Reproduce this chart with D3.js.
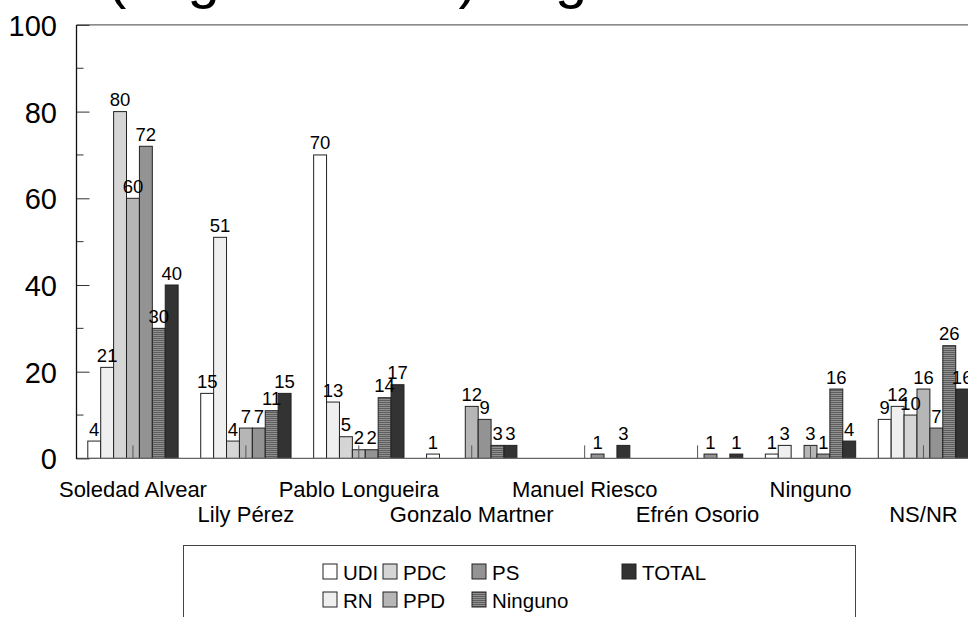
<!DOCTYPE html>
<html>
<head>
<meta charset="utf-8">
<script src="https://cdn.jsdelivr.net/npm/d3@7"></script>
<style>
  html, body { margin: 0; padding: 0; background: #fff; }
  svg { display: block; font-family: "Liberation Sans", Arial, sans-serif; }
</style>
</head>
<body>
<svg id="chart" width="968" height="617"></svg>
<script>
// ---- data ----
const categories = ["Soledad Alvear", "Lily Pérez", "Pablo Longueira", "Gonzalo Martner",
                    "Manuel Riesco", "Efrén Osorio", "Ninguno", "NS/NR"];
const seriesNames = ["UDI", "RN", "PDC", "PPD", "PS", "Ninguno", "TOTAL"];
const UDI     = [4, 15, 70, 1, 0, 0, 1, 9];
const RN      = [21, 51, 13, 0, 0, 0, 3, 12];
const PDC     = [80, 4, 5, 0, 0, 0, 0, 10];
const PPD     = [60, 7, 2, 12, 0, 0, 3, 16];
const PS      = [72, 7, 2, 9, 1, 1, 1, 7];
const Ninguno = [30, 11, 14, 3, 0, 0, 16, 26];
const TOTAL   = [40, 15, 17, 3, 3, 1, 4, 16];
const yTicks = [0, 20, 40, 60, 80, 100];
const titleText = "Preferencia (según sector) según";

const seriesValues = [UDI, RN, PDC, PPD, PS, Ninguno, TOTAL];
const fills = ["#ffffff", "#efefef", "#d5d5d5", "#b6b6b6", "#939393", "url(#hatch)", "#333333"];

const svg = d3.select("#chart");

// hatch pattern for "Ninguno"
const defs = svg.append("defs");
const pat = defs.append("pattern").attr("id", "hatch").attr("patternUnits", "userSpaceOnUse")
  .attr("width", 4).attr("height", 2);
pat.append("rect").attr("width", 4).attr("height", 2).attr("fill", "#5e5e5e");
pat.append("rect").attr("y", 1).attr("width", 4).attr("height", 1).attr("fill", "#909090");

// scales
const x0 = d3.scaleBand().domain(categories).range([76.5, 979.9]).paddingInner(0.2).paddingOuter(0.1);
const x1 = d3.scaleBand().domain(seriesNames).range([0, x0.bandwidth()]).padding(0);
const y = d3.scaleLinear().domain([0, 100]).range([458.4, 24.9]);

// title (mostly off the top of the picture)
const title = svg.append("text").attr("x", 0).attr("y", -3)
  .attr("font-size", 58).attr("fill", "#000").text(titleText);
const pIdx = titleText.indexOf("(");
const pPos = title.node().getStartPositionOfChar(pIdx).x;
title.attr("x", 107 - pPos);

// top frame line
svg.append("line").attr("x1", 76.5).attr("x2", 968).attr("y1", y(100)).attr("y2", y(100))
  .attr("stroke", "#666").attr("stroke-width", 1.2);

// bars
const data = [];
categories.forEach((c, i) => {
  seriesNames.forEach((s, j) => {
    data.push({ cat: c, ser: s, v: seriesValues[j][i], fill: fills[j] });
  });
});
const shown = data.filter(d => d.v > 0);

svg.append("g").selectAll("rect").data(shown).join("rect")
  .attr("x", d => x0(d.cat) + x1(d.ser))
  .attr("y", d => y(d.v))
  .attr("width", x1.bandwidth())
  .attr("height", d => y(0) - y(d.v))
  .attr("fill", d => d.fill)
  .attr("stroke", "#222")
  .attr("stroke-width", 1);

// value labels
svg.append("g").selectAll("text").data(shown).join("text")
  .attr("x", d => x0(d.cat) + x1(d.ser) + x1.bandwidth() / 2)
  .attr("y", d => y(d.v) - 5.5)
  .attr("text-anchor", "middle")
  .attr("font-size", 18.5)
  .attr("fill", "#000")
  .text(d => d.v);

// baseline
svg.append("line").attr("x1", 76.5).attr("x2", 968).attr("y1", y(0)).attr("y2", y(0))
  .attr("stroke", "#666").attr("stroke-width", 1.4);

// category ticks (pointing up, inside)
svg.append("g").selectAll("line").data(categories).join("line")
  .attr("x1", d => x0(d) + x0.bandwidth() / 2).attr("x2", d => x0(d) + x0.bandwidth() / 2)
  .attr("y1", y(0)).attr("y2", y(0) - 13)
  .attr("stroke", "#555").attr("stroke-width", 1);

// category labels (staggered)
svg.append("g").selectAll("text").data(categories).join("text")
  .attr("x", d => x0(d) + x0.bandwidth() / 2)
  .attr("y", (d, i) => i % 2 === 0 ? 497 : 522)
  .attr("text-anchor", "middle")
  .attr("font-size", 22)
  .attr("fill", "#000")
  .text(d => d);

// y axis
const yAxis = d3.axisRight(y).tickValues(yTicks).tickSize(13).tickFormat("");
const gy = svg.append("g").attr("transform", "translate(76.5,0)").call(yAxis);
gy.select(".domain").remove();
gy.selectAll(".tick line").attr("stroke", "#333");
const minor = d3.range(10, 100, 20);
svg.append("g").selectAll("line").data(minor).join("line")
  .attr("x1", 76.5).attr("x2", 83.5).attr("y1", d => y(d)).attr("y2", d => y(d))
  .attr("stroke", "#333");
svg.append("line").attr("x1", 76.5).attr("x2", 76.5).attr("y1", y(100)).attr("y2", y(0) + 0.7)
  .attr("stroke", "#111").attr("stroke-width", 1.3);
svg.append("g").selectAll("text").data(yTicks).join("text")
  .attr("x", 57).attr("y", d => y(d) + 11)
  .attr("text-anchor", "end").attr("font-size", 29).attr("fill", "#000")
  .text(d => d);

// legend
svg.append("rect").attr("x", 183.5).attr("y", 545.5).attr("width", 672).attr("height", 100)
  .attr("fill", "#fff").attr("stroke", "#444").attr("stroke-width", 1);
const legX = [323, 383, 472, 622];
const legendItems = seriesNames.map((s, j) => {
  const col = j === 6 ? 3 : Math.floor(j / 2);
  const row = j === 6 ? 0 : j % 2;
  return { name: s, fill: fills[j], x: legX[col], y: row === 0 ? 580 : 608 };
});
const lg = svg.append("g").selectAll("g").data(legendItems).join("g");
lg.append("rect").attr("x", d => d.x).attr("y", d => d.y - 16).attr("width", 14).attr("height", 15)
  .attr("fill", d => d.fill).attr("stroke", "#222");
lg.append("text").attr("x", d => d.x + 20).attr("y", d => d.y)
  .attr("font-size", 20.5).attr("fill", "#000").text(d => d.name);
</script>
</body>
</html>
